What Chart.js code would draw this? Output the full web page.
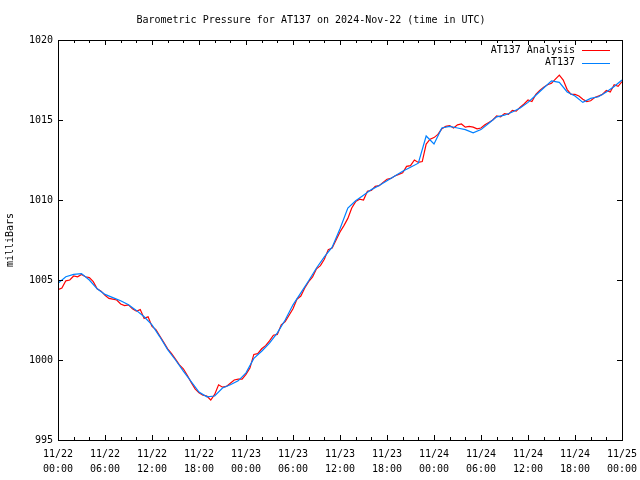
<!DOCTYPE html>
<html>
<head>
<meta charset="utf-8">
<script src="https://cdn.jsdelivr.net/npm/chart.js@4"></script>
<style>
  html, body { margin: 0; padding: 0; background: #fff; }
</style>
</head>
<body>
<canvas id="pressure" width="640" height="480"></canvas>
<script>
// hours since 11/22 00:00 UTC
var tickLabels = [
  ['11/22', '00:00'], ['11/22', '06:00'], ['11/22', '12:00'], ['11/22', '18:00'],
  ['11/23', '00:00'], ['11/23', '06:00'], ['11/23', '12:00'], ['11/23', '18:00'],
  ['11/24', '00:00'], ['11/24', '06:00'], ['11/24', '12:00'], ['11/24', '18:00'],
  ['11/25', '00:00']
]

// AT137 Analysis, every 30 minutes
var analysisStep = 0.5
var analysis = [
  1004.4, 1004.5, 1004.95, 1005.0, 1005.25, 1005.2, 1005.35, 1005.2, 1005.15, 1004.9,
  1004.45, 1004.3, 1004.05, 1003.85, 1003.8, 1003.75, 1003.5, 1003.4, 1003.45, 1003.2,
  1003.05, 1003.15, 1002.6, 1002.7, 1002.1, 1001.9, 1001.5, 1001.1, 1000.7, 1000.4,
  1000.05, 999.7, 999.45, 999.05, 998.6, 998.2, 997.95, 997.8, 997.75, 997.5,
  997.85, 998.45, 998.3, 998.35, 998.55, 998.75, 998.8, 998.8, 999.1, 999.5,
  1000.35, 1000.4, 1000.7, 1000.9, 1001.2, 1001.55, 1001.6, 1002.2, 1002.4, 1002.8,
  1003.2, 1003.8, 1004.0, 1004.5, 1004.9, 1005.2, 1005.7, 1005.9, 1006.3, 1006.9,
  1007.0, 1007.5, 1008.0, 1008.4, 1008.85, 1009.5, 1009.9, 1010.05, 1010.0, 1010.55,
  1010.6, 1010.85, 1010.9, 1011.1, 1011.3, 1011.35, 1011.5, 1011.6, 1011.7, 1012.1,
  1012.15, 1012.5, 1012.35, 1012.4, 1013.5, 1013.8, 1013.9, 1014.1, 1014.45, 1014.6,
  1014.65, 1014.5, 1014.7, 1014.75, 1014.55, 1014.6, 1014.55, 1014.45, 1014.5, 1014.7,
  1014.85, 1015.0, 1015.25, 1015.2, 1015.4, 1015.35, 1015.6, 1015.55, 1015.8, 1016.0,
  1016.25, 1016.15, 1016.6, 1016.85, 1017.05, 1017.2, 1017.3, 1017.55, 1017.8, 1017.5,
  1016.9, 1016.6, 1016.6, 1016.5, 1016.3, 1016.15, 1016.2, 1016.4, 1016.5, 1016.6,
  1016.85, 1016.75, 1017.2, 1017.1, 1017.4
]

// AT137 observed, hourly
var observedStep = 1
var observed = [
  1004.8, 1005.2, 1005.35, 1005.4, 1005.0, 1004.45, 1004.1, 1003.9, 1003.7, 1003.45,
  1003.1, 1002.7, 1002.2, 1001.45, 1000.65, 1000.0, 999.3, 998.65, 998.0, 997.7,
  997.75, 998.25, 998.45, 998.7, 999.2, 1000.1, 1000.55, 1001.05, 1001.7, 1002.5,
  1003.45, 1004.2, 1004.95, 1005.75, 1006.45, 1007.05, 1008.2, 1009.5, 1009.95, 1010.3,
  1010.65, 1010.9, 1011.2, 1011.5, 1011.8, 1012.05, 1012.3, 1014.0, 1013.5, 1014.5,
  1014.6, 1014.5, 1014.4, 1014.2, 1014.4, 1014.8, 1015.2, 1015.3, 1015.5, 1015.75,
  1016.1, 1016.55, 1017.0, 1017.45, 1017.35, 1016.75, 1016.5, 1016.1, 1016.35, 1016.45,
  1016.75, 1017.1, 1017.5
]

var FONT = { family: "'DejaVu Sans Mono', 'Liberation Mono', monospace", size: 10 }

function toPoints(values, step) {
  return values.map(function (v, i) { return { x: i * step, y: v } })
}

// gnuplot style frame, inward ticks and legend
var frame = {
  id: 'frame',
  afterDatasetsDraw: function (chart) {
    var ctx = chart.ctx, a = chart.chartArea
    var xs = chart.scales.x, ys = chart.scales.y
    ctx.save()
    ctx.strokeStyle = '#000'
    ctx.lineWidth = 1
    ctx.beginPath()
    for (var h = 0; h <= 72; h += 2) {
      var px = Math.round(xs.getPixelForValue(h)) + 0.5
      var len = h % 6 === 0 ? 5 : 3
      ctx.moveTo(px, a.bottom); ctx.lineTo(px, a.bottom - len)
      ctx.moveTo(px, a.top); ctx.lineTo(px, a.top + len)
    }
    for (var v = 995; v <= 1020; v += 5) {
      var py = Math.round(ys.getPixelForValue(v)) + 0.5
      ctx.moveTo(a.left, py); ctx.lineTo(a.left + 5, py)
      ctx.moveTo(a.right, py); ctx.lineTo(a.right - 5, py)
    }
    ctx.stroke()
    ctx.strokeRect(Math.round(a.left) + 0.5, Math.round(a.top) + 0.5,
      Math.round(a.right - a.left), Math.round(a.bottom - a.top))

    ctx.font = FONT.size + 'px ' + FONT.family
    ctx.textAlign = 'right'
    ctx.textBaseline = 'middle'
    chart.data.datasets.forEach(function (ds, i) {
      var y = a.top + 10 + i * 12.5
      ctx.fillStyle = '#000'
      ctx.fillText(ds.label, a.right - 47, y)
      ctx.strokeStyle = ds.borderColor
      ctx.beginPath()
      ctx.moveTo(a.right - 40, Math.round(y) + 0.5)
      ctx.lineTo(a.right - 12, Math.round(y) + 0.5)
      ctx.stroke()
    })
    ctx.restore()
  }
}

new Chart(document.getElementById('pressure'), {
  type: 'line',
  data: {
    datasets: [
      {
        label: 'AT137 Analysis',
        data: toPoints(analysis, analysisStep),
        borderColor: '#ff0000',
        borderWidth: 1.2,
        pointRadius: 0,
        order: 2
      },
      {
        label: 'AT137',
        data: toPoints(observed, observedStep),
        borderColor: 'rgb(0, 128, 255)',
        borderWidth: 1.2,
        pointRadius: 0,
        order: 1
      }
    ]
  },
  options: {
    responsive: false,
    animation: false,
    devicePixelRatio: 1,
    layout: { padding: { left: 0, right: 18, top: 0, bottom: 0 } },
    plugins: {
      legend: { display: false },
      tooltip: { enabled: false },
      title: {
        display: true,
        text: 'Barometric Pressure for AT137 on 2024-Nov-22 (time in UTC)',
        color: '#000',
        font: { family: FONT.family, size: 10, weight: 'normal' },
        padding: { top: 14, bottom: 14 }
      }
    },
    scales: {
      x: {
        type: 'linear',
        min: 0,
        max: 72,
        grid: { display: false, drawTicks: false },
        border: { display: false },
        afterFit: function (s) {
          s.height = 40
          s.paddingLeft = 0
          s.paddingRight = 0
        },
        ticks: {
          stepSize: 6,
          autoSkip: false,
          maxRotation: 0,
          padding: 7,
          color: '#000',
          font: { family: FONT.family, size: 10, lineHeight: 1.5 },
          callback: function (v) { return tickLabels[v / 6] }
        }
      },
      y: {
        min: 995,
        max: 1020,
        grid: { display: false, drawTicks: false },
        border: { display: false },
        afterFit: function (s) {
          s.width = 58
          s.paddingTop = 0
          s.paddingBottom = 0
        },
        title: {
          display: true,
          text: 'milliBars',
          color: '#000',
          font: { family: FONT.family, size: 10 },
          padding: { top: 4, bottom: 0 }
        },
        ticks: {
          stepSize: 5,
          padding: 5,
          color: '#000',
          font: { family: FONT.family, size: 10 },
          callback: function (v) { return String(v) }
        }
      }
    }
  },
  plugins: [frame]
})
</script>
</body>
</html>
